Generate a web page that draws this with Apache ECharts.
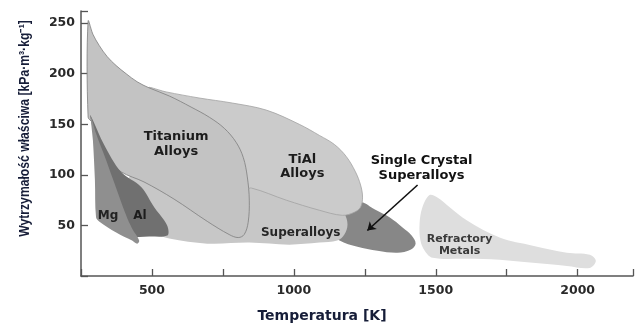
<!DOCTYPE html>
<html>
<head>
<meta charset="utf-8">
<script src="https://cdn.jsdelivr.net/npm/echarts@6/dist/echarts.min.js"></script>
<style>
  html, body { margin: 0; padding: 0; background: #fff; }
  #chart { width: 639px; height: 323px; }
</style>
</head>
<body>
<div id="chart"></div>
<script>
// Outlines of each material family: [temperature K, specific strength kPa·m³·kg⁻¹]
const titaniumAlloys = [
  [275, 252], [292, 239], [314, 228], [342, 217], [374, 208], [409, 200], [448, 192],
  [490, 186], [561, 178], [638, 167], [702, 157], [755, 146], [797, 132], [822, 117],
  [836, 98], [843, 75], [839, 53], [825, 41], [804, 38], [772, 41], [695, 54],
  [578, 76], [472, 93], [391, 103], [349, 115], [289, 152], [275, 157]
];
const tiAlAlloys = [
  [490, 186], [550, 182], [666, 176], [783, 171], [903, 164], [1019, 150], [1090, 139],
  [1143, 130], [1185, 118], [1217, 103], [1235, 90], [1242, 78], [1235, 68], [1213, 63],
  [1171, 60], [1090, 65], [973, 75], [850, 87], [825, 85], [772, 115], [631, 159]
];
const superalloys = [
  [419, 85], [437, 105], [596, 100], [825, 90], [1019, 85], [1153, 70], [1178, 62],
  [1189, 51], [1178, 41], [1153, 35], [1090, 33], [984, 31], [843, 33], [695, 32],
  [561, 37], [508, 43], [455, 60]
];
const singleCrystal = [
  [1143, 60], [1196, 69], [1238, 73], [1284, 66], [1337, 58], [1383, 48], [1415, 40],
  [1429, 32], [1411, 26], [1365, 23], [1295, 25], [1224, 29], [1161, 35], [1132, 45]
];
const magnesium = [
  [285, 157], [292, 134], [299, 95], [303, 58], [314, 54], [374, 43], [430, 35],
  [448, 32], [455, 35], [430, 47], [409, 60], [370, 90], [338, 115], [303, 141]
];
const aluminium = [
  [282, 159], [296, 141], [321, 115], [352, 90], [391, 60], [412, 44], [437, 39],
  [490, 39], [554, 40], [557, 47], [543, 55], [508, 68], [462, 88], [391, 103],
  [331, 130], [292, 154]
];
const refractoryMetals = [
  [1478, 80], [1503, 78], [1549, 68], [1609, 55], [1725, 38], [1842, 30], [1962, 23],
  [2043, 21], [2064, 15], [2043, 8], [1962, 10], [1842, 13], [1725, 16], [1609, 17],
  [1489, 18], [1461, 25], [1446, 35], [1443, 52], [1453, 68]
];
const singleCrystalArrow = [[1436, 90], [1259, 45]];

const xTickLabels = [500, 1000, 1500, 2000];
const yTickLabels = [50, 100, 150, 200, 250];

const regionNames = ['Titanium\nAlloys', 'TiAl\nAlloys', 'Superalloys', 'Mg', 'Al',
  'Single Crystal\nSuperalloys', 'Refractory\nMetals'];
const regionNameAnchors = [[585, 130], [1030, 108], [1024, 42.5], [345, 59], [458, 59],
  [1450, 107], [1584, 31]];
const regionNameStyles = [
  { size: 13, color: '#1c1c1c', lh: 15 },
  { size: 13, color: '#1c1c1c', lh: 14 },
  { size: 12, color: '#262626', lh: 14 },
  { size: 12, color: '#222', lh: 14 },
  { size: 12, color: '#1c1c1c', lh: 14 },
  { size: 13, color: '#111', lh: 15 },
  { size: 11, color: '#3a3a3a', lh: 12 }
];

const LABEL_FONT = '"DejaVu Sans", "Liberation Sans", sans-serif';
const TITLE_COLOR = '#161d38';

function region(points, fill, stroke) {
  return {
    type: 'custom',
    coordinateSystem: 'cartesian2d',
    silent: true,
    data: points,
    encode: { x: 0, y: 1 },
    renderItem(params, api) {
      if (params.dataIndex !== 0) return null;
      return {
        type: 'polygon',
        shape: { points: points.map(p => api.coord(p)), smooth: 0.35 },
        style: { fill: fill, stroke: stroke || null, lineWidth: stroke ? 0.8 : 0 }
      };
    }
  };
}

const chart = echarts.init(document.getElementById('chart'), null, { renderer: 'canvas' });

chart.setOption({
  animation: false,
  backgroundColor: '#ffffff',
  grid: { left: 81, right: 6, top: 11, bottom: 47 },
  xAxis: {
    type: 'value',
    min: 250,
    max: 2195,
    interval: 250,
    axisLine: { lineStyle: { color: '#555', width: 1.5 } },
    axisTick: { inside: true, length: 7, lineStyle: { color: '#555', width: 1.3 } },
    splitLine: { show: false },
    axisLabel: {
      margin: 8,
      color: '#2a2a2a',
      fontFamily: LABEL_FONT,
      fontWeight: 'bold',
      fontSize: 12.5,
      formatter: v => (xTickLabels.includes(v) ? String(v) : '')
    }
  },
  yAxis: {
    type: 'value',
    min: 0,
    max: 262,
    interval: 50,
    axisLine: { show: true, lineStyle: { color: '#555', width: 1.5 } },
    axisTick: { show: true, inside: true, length: 7, lineStyle: { color: '#555', width: 1.3 } },
    splitLine: { show: false },
    axisLabel: {
      margin: 6,
      color: '#2a2a2a',
      fontFamily: LABEL_FONT,
      fontWeight: 'bold',
      fontSize: 12.5,
      formatter: v => (yTickLabels.includes(v) ? String(v) : '')
    }
  },
  graphic: [
    {
      type: 'text', x: 322, y: 316, silent: true,
      style: {
        text: 'Temperatura [K]', align: 'center', verticalAlign: 'middle',
        fontFamily: LABEL_FONT, fontWeight: 'bold', fontSize: 14, fill: TITLE_COLOR
      }
    },
    {
      // condensed vertical axis title
      type: 'text', x: 25.5, y: 128.5, rotation: Math.PI / 2, scaleX: 0.87, silent: true,
      style: {
        text: 'Wytrzymałość właściwa [kPa·m³·kg⁻¹]', align: 'center', verticalAlign: 'middle',
        fontFamily: '"Liberation Sans", sans-serif',
        fontWeight: 'bold', fontSize: 14, fill: TITLE_COLOR
      }
    }
  ],
  series: [
    region(refractoryMetals, '#dedede', null),
    region(singleCrystal, '#878787', null),
    region(superalloys, '#c7c7c7', null),
    region(tiAlAlloys, '#cbcbcb', '#a2a2a2'),
    region(titaniumAlloys, '#c3c3c3', '#7d7d7d'),
    region(aluminium, '#707070', null),
    region(magnesium, '#8f8f8f', null),
    {
      type: 'lines',
      coordinateSystem: 'cartesian2d',
      silent: true,
      symbol: ['none', 'arrow'],
      symbolSize: [0, 8],
      lineStyle: { color: '#111', width: 1.6, opacity: 1 },
      data: [{ coords: singleCrystalArrow }]
    },
    {
      type: 'custom',
      coordinateSystem: 'cartesian2d',
      silent: true,
      data: regionNameAnchors,
      encode: { x: 0, y: 1 },
      renderItem(params, api) {
        const i = params.dataIndex;
        const pos = api.coord(regionNameAnchors[i]);
        const st = regionNameStyles[i];
        return {
          type: 'text',
          x: pos[0], y: pos[1],
          style: {
            text: regionNames[i], align: 'center', verticalAlign: 'middle',
            fontFamily: LABEL_FONT, fontWeight: 'bold', fontSize: st.size,
            lineHeight: st.lh, fill: st.color
          }
        };
      }
    }
  ]
});
</script>
</body>
</html>
